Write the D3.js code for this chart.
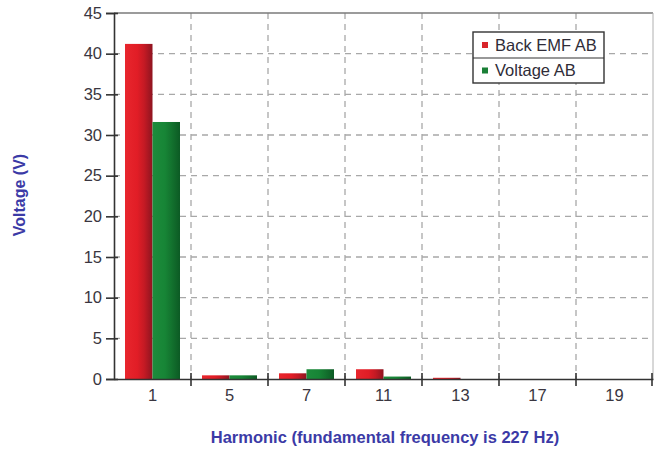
<!DOCTYPE html>
<html>
<head>
<meta charset="utf-8">
<script src="https://cdn.jsdelivr.net/npm/d3@7"></script>
<style>
  html, body { margin: 0; padding: 0; background: #fff; }
  svg { display: block; font-family: "Liberation Sans", Arial, sans-serif; }
</style>
</head>
<body>
<svg id="chart" width="654" height="451"></svg>
<script>
// Harmonic spectrum: back EMF vs. line voltage (phase AB)
const harmonics = ["1", "5", "7", "11", "13", "17", "19"];
const seriesNames = ["Back EMF AB", "Voltage AB"];
const backEmf = [41.2, 0.45, 0.7, 1.2, 0.15, 0, 0];
const voltage = [31.6, 0.45, 1.2, 0.3, 0, 0, 0];
const yTicks = [0, 5, 10, 15, 20, 25, 30, 35, 40, 45];

const svg = d3.select("#chart");
const margin = { left: 114, right: 1, top: 13, bottom: 72 };
const W = 654, H = 451;
const x0 = margin.left, x1 = W - margin.right;
const y0 = H - margin.bottom, y1 = margin.top;

const x = d3.scaleBand().domain(harmonics).range([x0, x1]).paddingInner(0).paddingOuter(0);
const xs = d3.scaleBand().domain(seriesNames).range([0, x.bandwidth()]).paddingOuter(0.4).paddingInner(0);
const y = d3.scaleLinear().domain([0, 45]).range([y0, y1]);

// bar shading gradients
const defs = svg.append("defs");
function grad(id, stops) {
  const g = defs.append("linearGradient").attr("id", id).attr("x1", 0).attr("x2", 1).attr("y1", 0).attr("y2", 0);
  stops.forEach(s => g.append("stop").attr("offset", s[0]).attr("stop-color", s[1]));
}
grad("gRed", [[0, "#e8262d"], [0.45, "#e11d26"], [0.7, "#c41a24"], [1, "#8e1420"]]);
grad("gGreen", [[0, "#1d8c3c"], [0.45, "#178536"], [0.7, "#13722e"], [1, "#0c5a24"]]);
const fills = { "Back EMF AB": "url(#gRed)", "Voltage AB": "url(#gGreen)" };
const legendColors = { "Back EMF AB": "#d8242b", "Voltage AB": "#1a7f36" };

// grid
const grid = svg.append("g");
grid.selectAll("line.h").data(yTicks.filter(d => d > 0 && d < 45)).join("line")
  .attr("x1", x0).attr("x2", x1).attr("y1", d => y(d)).attr("y2", d => y(d))
  .attr("stroke", "#a8a8a8").attr("stroke-width", 1.3).attr("stroke-dasharray", "6,5");
grid.selectAll("line.v").data(harmonics.slice(1)).join("line")
  .attr("x1", d => x(d)).attr("x2", d => x(d)).attr("y1", y1).attr("y2", y0)
  .attr("stroke", "#a8a8a8").attr("stroke-width", 1.3).attr("stroke-dasharray", "6,5");

// frame (top and right)
svg.append("line").attr("x1", x0).attr("x2", x1).attr("y1", y1).attr("y2", y1)
  .attr("stroke", "#7a7a7a").attr("stroke-width", 1.5);
svg.append("line").attr("x1", x1).attr("x2", x1).attr("y1", y1).attr("y2", y0)
  .attr("stroke", "#b0b0b0").attr("stroke-width", 1);

// bars
const rows = harmonics.map((h, i) => ({ h, vals: [
  { name: "Back EMF AB", v: backEmf[i] },
  { name: "Voltage AB", v: voltage[i] }
]}));
const groups = svg.append("g").selectAll("g").data(rows).join("g")
  .attr("transform", d => `translate(${x(d.h)},0)`);
groups.selectAll("rect").data(d => d.vals.filter(v => v.v > 0)).join("rect")
  .attr("x", d => xs(d.name))
  .attr("width", xs.bandwidth())
  .attr("y", d => y(d.v))
  .attr("height", d => y0 - y(d.v))
  .attr("fill", d => fills[d.name]);

// axes
const yAxis = svg.append("g").attr("transform", `translate(${x0},0)`)
  .call(d3.axisLeft(y).tickValues(yTicks).tickSize(8).tickPadding(4));
yAxis.select(".domain").attr("stroke", "#333").attr("stroke-width", 1.6);
yAxis.selectAll(".tick line").attr("stroke", "#333").attr("stroke-width", 1.6).attr("x2", -8).attr("x1", 4);
yAxis.selectAll(".tick text").attr("fill", "#3a3640").attr("font-size", 16.5);

const xAxis = svg.append("g").attr("transform", `translate(0,${y0})`)
  .call(d3.axisBottom(x).tickSize(0).tickPadding(10));
xAxis.select(".domain").attr("stroke", "#333").attr("stroke-width", 1.6);
xAxis.selectAll(".tick text").attr("fill", "#3a3640").attr("font-size", 16.5);
// band separators on the x axis
svg.append("g").selectAll("line").data(harmonics.slice(1).concat(["end"])).join("line")
  .attr("x1", d => d === "end" ? x1 - 1 : x(d)).attr("x2", d => d === "end" ? x1 - 1 : x(d))
  .attr("y1", y0 - 6).attr("y2", y0 + 7)
  .attr("stroke", "#333").attr("stroke-width", 1.6);

// axis titles
svg.append("text").attr("transform", `translate(25,${195}) rotate(-90)`)
  .attr("text-anchor", "middle").attr("fill", "#3b3aa6").attr("font-weight", "bold").attr("font-size", 16)
  .text("Voltage (V)");
svg.append("text").attr("x", 385).attr("y", 443)
  .attr("text-anchor", "middle").attr("fill", "#3b3aa6").attr("font-weight", "bold").attr("font-size", 16.5)
  .text("Harmonic (fundamental frequency is 227 Hz)");

// legend
const lg = svg.append("g").attr("transform", "translate(473,32)");
lg.append("rect").attr("width", 131).attr("height", 51).attr("fill", "#fff")
  .attr("stroke", "#333").attr("stroke-width", 1.4);
lg.append("line").attr("x1", 0).attr("x2", 131).attr("y1", 26).attr("y2", 26)
  .attr("stroke", "#333").attr("stroke-width", 1.2);
seriesNames.forEach((n, i) => {
  const cy = 13 + i * 25.5;
  lg.append("rect").attr("x", 9).attr("y", cy - 3).attr("width", 6).attr("height", 6).attr("fill", legendColors[n]);
  lg.append("text").attr("x", 22).attr("y", cy + 5.5).attr("fill", "#2f2c38").attr("font-size", 16.5).text(n);
});
</script>
</body>
</html>
